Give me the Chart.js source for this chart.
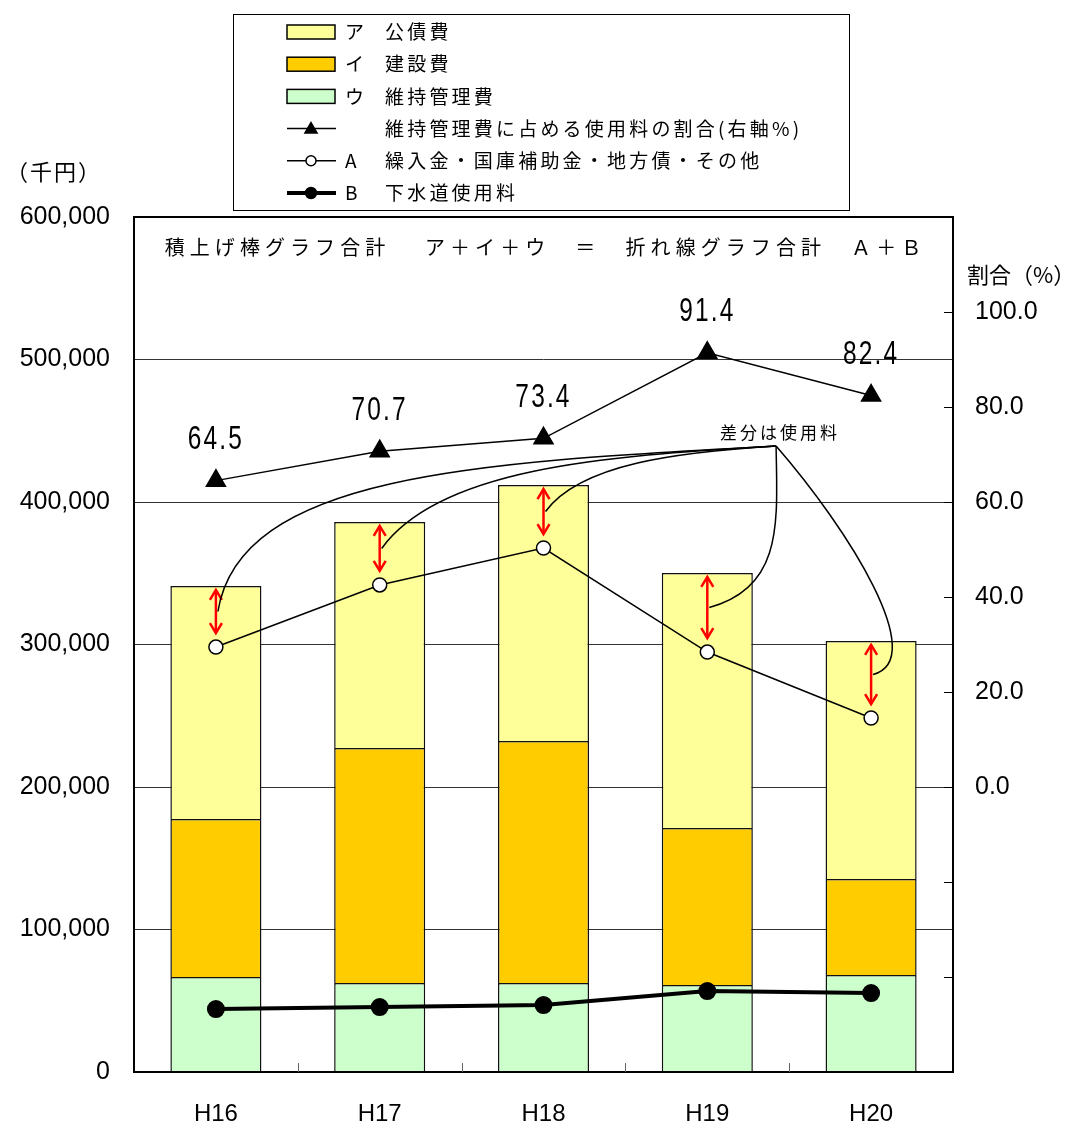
<!DOCTYPE html>
<html><head><meta charset="utf-8">
<script src="https://cdn.jsdelivr.net/npm/chart.js@4.4.1/dist/chart.umd.min.js"></script>
<style>html,body{margin:0;padding:0;background:#fff}canvas{display:block}</style>
</head><body>
<canvas id="c" width="1080" height="1124"></canvas>
<script>
// ---- data ----
const categories = ['H16','H17','H18','H19','H20'];
const kousaihi   = [163600, 158600, 179600, 179000, 167100]; // ア 公債費
const kensetsuhi = [110800, 164900, 169800, 110100, 67300];  // イ 建設費
const ijikanrihi = [66700, 62500, 62500, 61100, 68100];      // ウ 維持管理費
const kuriire    = [298200, 341800, 367700, 294700, 248400]; // A 繰入金・国庫補助金・地方債・その他
const shiyouryou = [44200, 45600, 47000, 56800, 55400];      // B 下水道使用料
const ratio      = [64.5, 70.7, 73.4, 91.4, 82.4];           // 維持管理費に占める使用料の割合
const leftTicks  = [0, 100000, 200000, 300000, 400000, 500000, 600000];
const rightTickLabels = [0, 20, 40, 60, 80, 100];

const JP = '"Noto Sans CJK JP", "Noto Sans", sans-serif';
const NUM = '"Liberation Sans", Arial, sans-serif';

const totals = categories.map((_, i) => kousaihi[i] + kensetsuhi[i] + ijikanrihi[i]);

const datasets = [
  {type:'line', label:'維持管理費に占める使用料の割合(右軸%)', data: ratio, yAxisID:'y2', order:0,
   borderColor:'#000', borderWidth:1.5, pointStyle:'triangle', pointRadius:11, pointBackgroundColor:'#000', pointBorderColor:'#000', tension:0},
  {type:'line', label:'繰入金・国庫補助金・地方債・その他', data: kuriire, yAxisID:'y', stack:'A', order:0,
   borderColor:'#000', borderWidth:1.5, pointStyle:'circle', pointRadius:7, pointBackgroundColor:'#fff', pointBorderColor:'#000', pointBorderWidth:1.5, tension:0},
  {type:'line', label:'下水道使用料', data: shiyouryou, yAxisID:'y', stack:'B', order:0,
   borderColor:'#000', borderWidth:4, pointStyle:'circle', pointRadius:7, pointBackgroundColor:'#000', pointBorderColor:'#000', tension:0},
  {type:'bar', label:'維持管理費', data: ijikanrihi, yAxisID:'y', stack:'bars', order:1,
   backgroundColor:'#CCFFCC', borderColor:'#111', borderWidth:1.5, categoryPercentage:1, barPercentage:0.556},
  {type:'bar', label:'建設費', data: kensetsuhi, yAxisID:'y', stack:'bars', order:1,
   backgroundColor:'#FFCC00', borderColor:'#111', borderWidth:1.5, categoryPercentage:1, barPercentage:0.556},
  {type:'bar', label:'公債費', data: kousaihi, yAxisID:'y', stack:'bars', order:1,
   backgroundColor:'#FFFF99', borderColor:'#111', borderWidth:1.5, categoryPercentage:1, barPercentage:0.556}
];

const legendItems = [
  {ds:5, letter:'ア'}, {ds:4, letter:'イ'}, {ds:3, letter:'ウ'},
  {ds:0, letter:''}, {ds:1, letter:'A'}, {ds:2, letter:'B'}
];

// annotation connector curves: control offsets (px) from origin and from end
const curveCtrl = [
  [[-297, 16], [22, -138]],
  [[-177, 10], [57, -79]],
  [[-97, 6], [35, -48]],
  [[1, 74], [75, -20]],
  [[73, 84], [57, -15]]
];
const noteAnchor = {x: 3.42, y: 439300}; // data-space anchor of 「差分は使用料」

function drawMarker(ctx, style, x, y, r, fill) {
  ctx.beginPath();
  if (style === 'triangle') {
    ctx.moveTo(x, y - r);
    ctx.lineTo(x + r * 0.866, y + r * 0.5);
    ctx.lineTo(x - r * 0.866, y + r * 0.5);
    ctx.closePath();
  } else {
    ctx.arc(x, y, r, 0, Math.PI * 2);
  }
  ctx.fillStyle = fill; ctx.fill();
  ctx.lineWidth = 1.5; ctx.strokeStyle = '#000'; ctx.stroke();
}

function arrowHead(ctx, x, y, dir) {
  ctx.beginPath();
  ctx.moveTo(x - 6, y - dir * 10);
  ctx.lineTo(x, y);
  ctx.lineTo(x + 6, y - dir * 10);
  ctx.stroke();
}

const decor = {
  id: 'decor',
  afterDatasetsDraw(chart) {
    const ctx = chart.ctx, ca = chart.chartArea;
    const xs = chart.scales.x, ys = chart.scales.y, y2 = chart.scales.y2;
    ctx.save();
    // plot frame
    ctx.strokeStyle = '#000'; ctx.lineWidth = 2;
    ctx.strokeRect(ca.left, ca.top, ca.right - ca.left, ca.bottom - ca.top);
    // right axis inner tick marks
    ctx.lineWidth = 1;
    for (let v = -40; v <= 100; v += 20) {
      const py = Math.round(y2.getPixelForValue(v)) + 0.5;
      ctx.beginPath(); ctx.moveTo(ca.right - 9, py); ctx.lineTo(ca.right, py); ctx.stroke();
    }
    // category separator ticks at bottom
    ctx.strokeStyle = '#666';
    for (let i = 0; i < categories.length - 1; i++) {
      const px = Math.round((xs.getPixelForValue(i) + xs.getPixelForValue(i + 1)) / 2) + 0.5;
      ctx.beginPath(); ctx.moveTo(px, ca.bottom); ctx.lineTo(px, ca.bottom - 9); ctx.stroke();
    }
    // red double arrows between bar top and A point
    ctx.strokeStyle = '#FF0000'; ctx.lineWidth = 2.5;
    const ends = [];
    categories.forEach((_, i) => {
      const px = xs.getPixelForValue(i);
      const t = ys.getPixelForValue(totals[i]) + 4;
      const b = ys.getPixelForValue(kuriire[i]) - 14;
      ctx.beginPath(); ctx.moveTo(px, t); ctx.lineTo(px, b); ctx.stroke();
      arrowHead(ctx, px, t, -1);
      arrowHead(ctx, px, b, 1);
      ends.push({x: px + 2, y: (t + b) / 2});
    });
    // connector curves
    const ox = xs.getPixelForValue(0) + (xs.getPixelForValue(1) - xs.getPixelForValue(0)) * noteAnchor.x;
    const oy = ys.getPixelForValue(noteAnchor.y);
    ctx.strokeStyle = '#000'; ctx.lineWidth = 1.5;
    ends.forEach((e, i) => {
      const c = curveCtrl[i];
      ctx.beginPath();
      ctx.moveTo(ox, oy);
      ctx.bezierCurveTo(ox + c[0][0], oy + c[0][1], e.x + c[1][0], e.y + c[1][1], e.x, e.y);
      ctx.stroke();
    });
    // note text
    ctx.fillStyle = '#000';
    ctx.font = '17px ' + JP; ctx.textAlign = 'center'; ctx.textBaseline = 'alphabetic';
    ctx.letterSpacing = '3px';
    ctx.fillText('差分は使用料', ox + 4, oy - 7);
    ctx.letterSpacing = '0px';
    // ratio data labels (condensed)
    ctx.font = '34px ' + NUM; ctx.textBaseline = 'middle'; ctx.textAlign = 'center';
    const meta0 = chart.getDatasetMeta(0);
    meta0.data.forEach((pt, i) => {
      ctx.save();
      ctx.translate(pt.x, pt.y - 41);
      ctx.scale(0.72, 1);
      ctx.letterSpacing = '3px';
      ctx.fillText(ratio[i].toFixed(1), 0, 0);
      ctx.restore();
    });
    // title inside plot
    const title = '積上げ棒グラフ合計　 ア＋イ＋ウ　＝　折れ線グラフ合計　Ａ＋Ｂ';
    ctx.font = '20px ' + JP; ctx.textAlign = 'left';
    const w0 = ctx.measureText(title).width;
    const chars = [...title].length;
    const targetW = (ca.right - ca.left) * 0.93;
    const sp = (targetW - w0) / chars;
    ctx.letterSpacing = sp + 'px';
    ctx.fillText(title, (ca.left + ca.right) / 2 - targetW / 2 + 2, ca.top + 30);
    ctx.letterSpacing = '0px';
    // axis titles
    ctx.font = '22px ' + JP; ctx.textAlign = 'left';
    ctx.letterSpacing = '2px';
    ctx.fillText('（千円）', 6, 172);
    ctx.letterSpacing = '0px';
    ctx.fillText('割合（%）', ca.right + 14, 275);
    // legend
    ctx.lineWidth = 1; ctx.strokeStyle = '#000';
    ctx.strokeRect(233.5, 14.5, 616, 196);
    legendItems.forEach((it, r) => {
      const ds = datasets[it.ds];
      const y = 32 + r * 32.2;
      if (ds.type === 'bar') {
        ctx.fillStyle = ds.backgroundColor;
        ctx.fillRect(287, y - 7, 48, 14);
        ctx.lineWidth = 1.5; ctx.strokeStyle = '#000';
        ctx.strokeRect(287, y - 7, 48, 14);
      } else {
        ctx.lineWidth = ds.borderWidth; ctx.strokeStyle = '#000';
        ctx.beginPath(); ctx.moveTo(287, y); ctx.lineTo(336, y); ctx.stroke();
        if (ds.pointStyle === 'triangle') drawMarker(ctx, 'triangle', 311, y + 1, 7, '#000');
        else drawMarker(ctx, 'circle', 311, y, ds.pointBackgroundColor === '#000' ? 5.5 : 5, ds.pointBackgroundColor);
      }
      ctx.fillStyle = '#000'; ctx.textBaseline = 'middle';
      ctx.font = '19px ' + JP;
      ctx.letterSpacing = '0px';
      if (it.letter) ctx.fillText(it.letter, 345, y);
      ctx.letterSpacing = '3.2px';
      ctx.fillText(ds.label, 385, y);
      ctx.letterSpacing = '0px';
    });
    ctx.restore();
  }
};

new Chart(document.getElementById('c'), {
  data: {labels: categories, datasets},
  options: {
    responsive: false, animation: false,
    layout: {padding: {top: 217, left: 0, right: 0, bottom: 0}},
    plugins: {legend: {display: false}, tooltip: {enabled: false}},
    scales: {
      x: {
        stacked: true, offset: true,
        grid: {display: false}, border: {display: false},
        ticks: {color: '#000', font: {family: NUM, size: 24}, padding: 20},
        afterFit(s) { s.height = 52; }
      },
      y: {
        position: 'left', stacked: true, min: 0, max: 600000,
        afterBuildTicks(s) { s.ticks = leftTicks.map(v => ({value: v})); },
        ticks: {color: '#000', font: {family: NUM, size: 25}, padding: 24,
          callback: v => v.toLocaleString('en-US')},
        grid: {color: '#333', lineWidth: 1, drawTicks: false},
        border: {display: false},
        afterFit(s) { s.width = 134; }
      },
      y2: {
        position: 'right', min: -60, max: 120,
        ticks: {stepSize: 20, color: '#000', font: {family: NUM, size: 25}, padding: 22,
          callback: v => rightTickLabels.includes(v) ? v.toFixed(1) : ''},
        grid: {drawOnChartArea: false, drawTicks: false},
        border: {display: false},
        afterFit(s) { s.width = 127; }
      }
    }
  },
  plugins: [decor]
});
</script>
</body></html>
